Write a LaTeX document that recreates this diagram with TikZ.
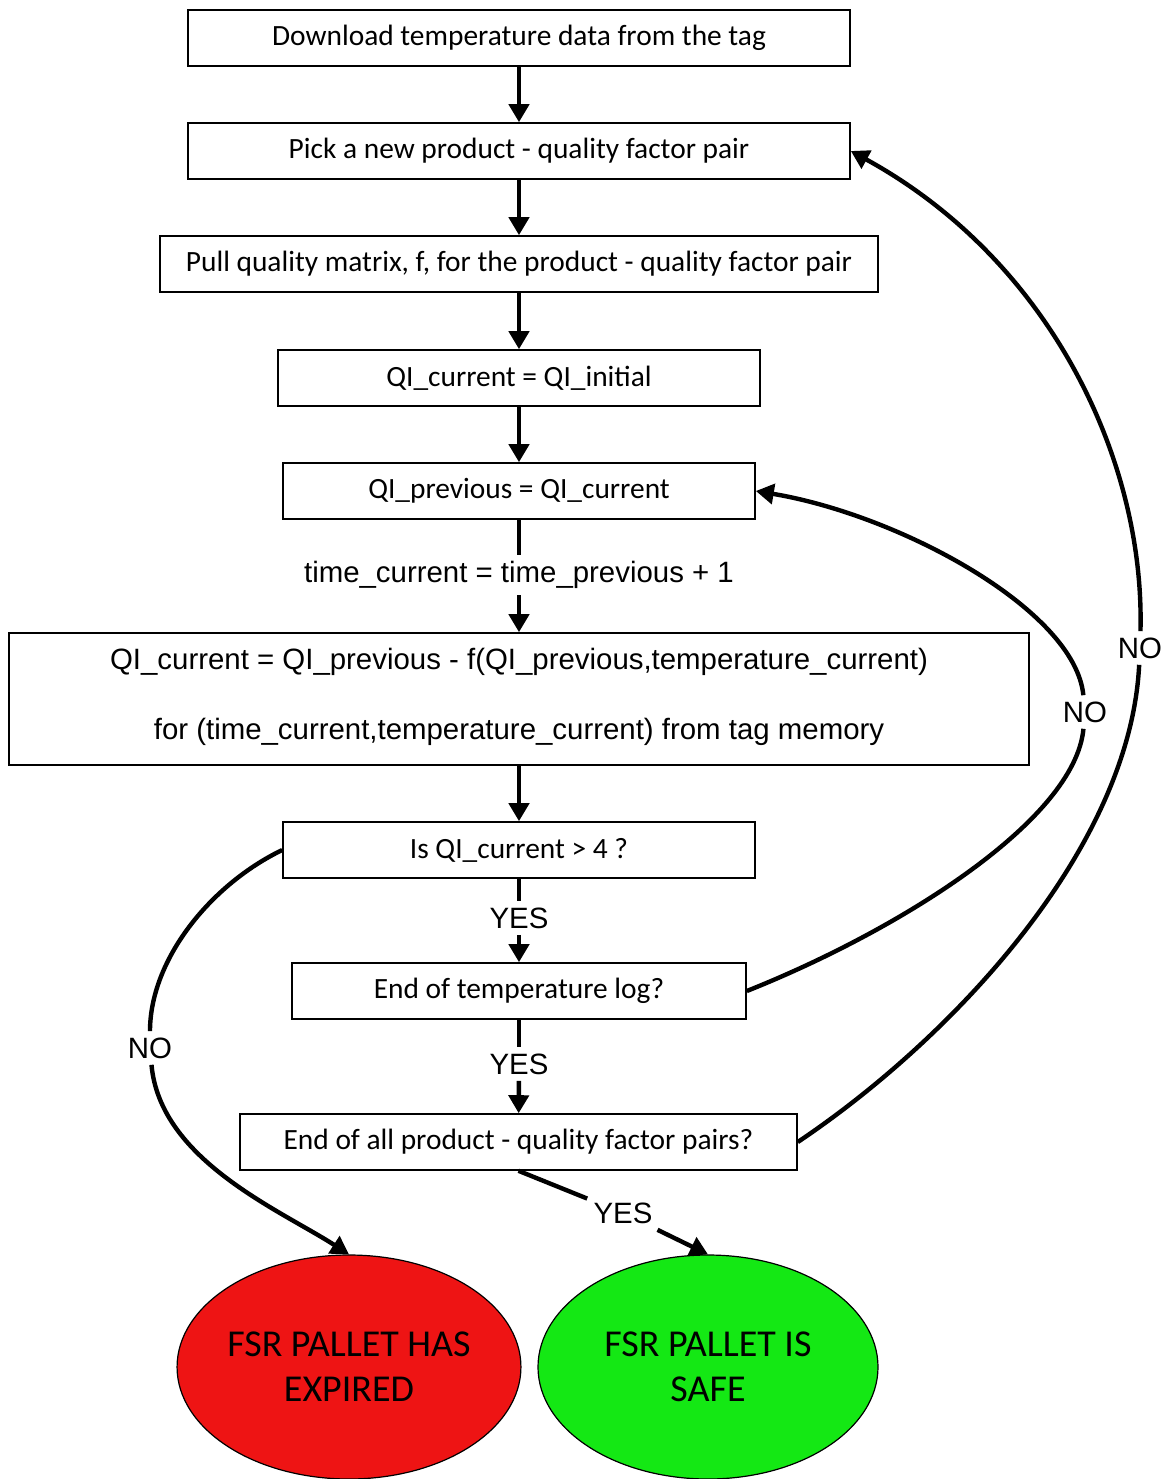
\documentclass[tikz,border=0pt]{standalone}
\usepackage{fontspec}
\setmainfont{Carlito}
\newfontfamily\arialf{Liberation Sans}
\usetikzlibrary{arrows.meta,shapes.geometric}
\definecolor{redfill}{RGB}{238,20,20}
\definecolor{greenfill}{RGB}{20,232,20}
\begin{document}
\begin{tikzpicture}[x=0.5pt,y=-0.5pt,
  box/.style={draw,line width=0.8pt,minimum height=28pt,inner sep=0pt,font=\fontsize{14.7}{17}\selectfont},
  lbl/.style={inner sep=3pt,font=\arialf\fontsize{14.7}{17}\selectfont},
  conn/.style={line width=2.2pt},
  arr/.style={line width=2.2pt,-{Triangle[length=9pt,width=10pt]}},
  endnode/.style={ellipse,draw,line width=0.6pt,minimum width=170pt,minimum height=112pt,inner sep=0pt,align=center,font=\fontsize{19}{22.5}\selectfont}]
\useasboundingbox (0,0) rectangle (1167,1479);
\fill[white] (0,0) rectangle (1167,1479);
\begin{scope}
\clip (0,0) rectangle (1167,1479);
\node[box,minimum width=331pt] (b1) at (519,38) {Download temperature data from the tag};
\node[box,minimum width=331pt] (b2) at (519,151) {Pick a new product - quality factor pair};
\node[box,minimum width=359pt] (b3) at (519,264) {Pull quality matrix, f, for the product - quality factor pair};
\node[box,minimum width=241pt] (b4) at (519,378) {QI\_current = QI\_initial};
\node[box,minimum width=236pt] (b5) at (519,491) {QI\_previous = QI\_current};
\node[lbl] (t1) at (519,575) {time\_current = time\_previous + 1};
\node[draw,line width=0.8pt,minimum width=510pt,minimum height=66pt,inner sep=0pt] (b6) at (519,699) {};
\node[lbl] (b6a) at (519,662) {QI\_current = QI\_previous - f(QI\_previous,temperature\_current)};
\node[lbl] (b6b) at (519,732) {for (time\_current,temperature\_current) from tag memory};
\node[box,minimum width=236pt] (b7) at (519,850) {Is QI\_current > 4 ?};
\node[lbl] (y1) at (519,918) {YES};
\node[box,minimum width=227pt] (b8) at (519,991) {End of temperature log?};
\node[lbl] (y2) at (519,1064) {YES};
\node[box,minimum width=278.5pt] (b9) at (518.5,1142) {End of all product - quality factor pairs?};
\node[lbl] (y3) at (623,1213) {YES};
\node[endnode,fill=redfill] (red) at (349,1367) {FSR PALLET HAS\\EXPIRED};
\node[endnode,fill=greenfill] (green) at (708,1367) {FSR PALLET IS\\SAFE};
\node[lbl] (n1) at (150,1048) {NO};
\node[lbl] (n2) at (1085,712) {NO};
\node[lbl] (n3) at (1140,648) {NO};

\draw[arr] (b1) -- (b2);
\draw[arr] (b2) -- (b3);
\draw[arr] (b3) -- (b4);
\draw[arr] (b4) -- (b5);
\draw[conn] (b5) -- (t1);
\draw[arr] (t1) -- (b6);
\draw[arr] (b6) -- (b7);
\draw[conn] (b7) -- (y1);
\draw[arr] (y1) -- (b8);
\draw[conn] (b8) -- (y2);
\draw[arr] (y2) -- (b9);
\draw[conn] (b9.south) -- (y3);
\draw[arr] (y3) -- (green.north);
\draw[conn] (b7.west) .. controls (210,885) and (150,960) .. (n1);
\draw[arr] (n1) .. controls (160,1160) and (280,1210) .. (red.north);
\draw[conn] (b8.east) .. controls (900,930) and (1075,820) .. (n2);
\draw[arr] (n2) .. controls (1075,610) and (900,515) .. (b5.east);
\draw[conn] (b9.east) .. controls (950,1040) and (1130,850) .. (n3);
\draw[arr] (n3) .. controls (1145,460) and (1050,260) .. (b2.east);
\end{scope}
\end{tikzpicture}
\end{document}
